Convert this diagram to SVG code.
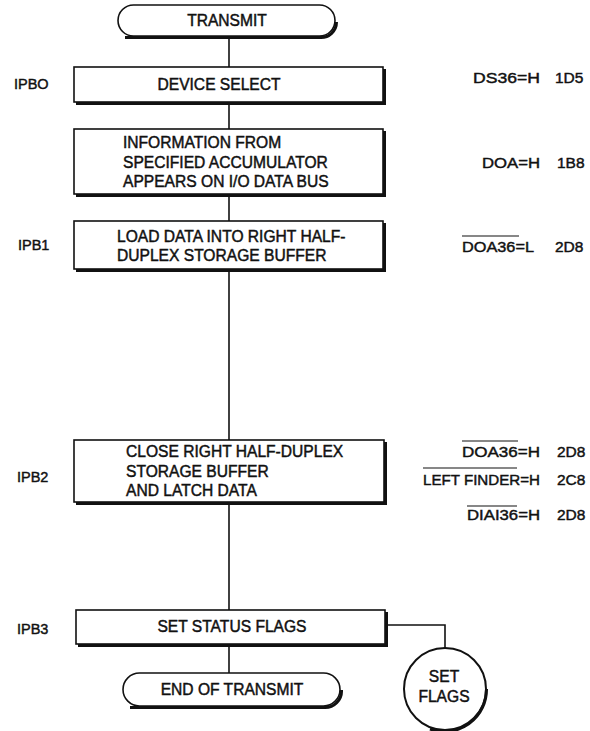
<svg xmlns="http://www.w3.org/2000/svg" width="590" height="731" viewBox="0 0 590 731">
<style>
.t{font-family:"Liberation Sans",Arial,sans-serif;font-size:15.6px;fill:#111;stroke:#111;stroke-width:0.45}
.s{font-family:"Liberation Sans",Arial,sans-serif;font-size:15.5px;fill:#111;stroke:#111;stroke-width:0.45}
.l{font-size:14.5px}
.m{text-anchor:middle}
.box{fill:#fff;stroke:#111;stroke-width:1.6}
.sh{fill:none;stroke:#111;stroke-width:3}
.ln{fill:none;stroke:#111;stroke-width:1.6}
.ov{stroke:#111;stroke-width:1.2}
</style>
<rect width="590" height="731" fill="#fff"/>
<g id="connectors">
<line class="ln" x1="229" y1="36" x2="229" y2="67"/>
<line class="ln" x1="229" y1="102" x2="229" y2="129"/>
<line class="ln" x1="229" y1="195" x2="229" y2="221"/>
<line class="ln" x1="229" y1="270" x2="229" y2="440"/>
<line class="ln" x1="229" y1="503" x2="229" y2="610"/>
<line class="ln" x1="229" y1="645" x2="229" y2="673"/>
<polyline class="ln" points="385,625 445,625 445,648"/>
</g>
<g id="start">
<rect class="box" x="118" y="5" width="217" height="31" rx="15.5"/>
<path class="sh" d="M125 37.5 H320 A15.5 15.5 0 0 0 336.5 22"/>
<text class="t m" x="227" y="26">TRANSMIT</text>
</g>
<g id="device-select">
<rect class="box" x="74" y="67" width="309" height="35"/>
<path class="sh" d="M76 103.5 H384.5 V69"/>
<text class="t m" x="219" y="90">DEVICE SELECT</text>
</g>
<g id="information">
<rect class="box" x="74" y="129" width="309" height="65"/>
<path class="sh" d="M76 195.5 H384.5 V131"/>
<text class="t" x="123" y="148">INFORMATION FROM</text>
<text class="t" x="123" y="168">SPECIFIED ACCUMULATOR</text>
<text class="t" x="123" y="187">APPEARS ON I/O DATA BUS</text>
</g>
<g id="load-data">
<rect class="box" x="74" y="221" width="309" height="48"/>
<path class="sh" d="M76 270.5 H384.5 V223"/>
<text class="t" x="117" y="242">LOAD DATA INTO RIGHT HALF-</text>
<text class="t" x="117" y="261">DUPLEX STORAGE BUFFER</text>
</g>
<g id="close-latch">
<rect class="box" x="74" y="440" width="310" height="62"/>
<path class="sh" d="M76 503.5 H385.5 V442"/>
<text class="t" x="126" y="457">CLOSE RIGHT HALF-DUPLEX</text>
<text class="t" x="126" y="477">STORAGE BUFFER</text>
<text class="t" x="126" y="496">AND LATCH DATA</text>
</g>
<g id="set-status">
<rect class="box" x="76" y="610" width="309" height="34"/>
<path class="sh" d="M78 645.5 H386.5 V612"/>
<text class="t m" x="232" y="632">SET STATUS FLAGS</text>
</g>
<g id="end">
<rect class="box" x="123" y="673" width="217" height="33" rx="16.5"/>
<path class="sh" d="M130 707.5 H324 A16.5 16.5 0 0 0 341.5 690"/>
<text class="t m" x="232" y="695">END OF TRANSMIT</text>
</g>
<g id="set-flags">
<circle cx="445" cy="689" r="41" fill="#fff" stroke="#111" stroke-width="2"/>
<path d="M486.5 689 A42 42 0 0 1 430 729" fill="none" stroke="#111" stroke-width="3"/>
<text class="t m" x="444" y="682">SET</text>
<text class="t m" x="444" y="702">FLAGS</text>
</g>
<g id="labels-left">
<text class="s l" x="14" y="89">IPBO</text>
<text class="s l" x="18" y="250">IPB1</text>
<text class="s l" x="17" y="482">IPB2</text>
<text class="s l" x="17" y="634">IPB3</text>
</g>
<g id="labels-right">
<text class="s" x="473" y="83" textLength="67" lengthAdjust="spacingAndGlyphs">DS36=H</text>
<text class="s" x="555" y="83">1D5</text>
<text class="s" x="482" y="168" textLength="58" lengthAdjust="spacingAndGlyphs">DOA=H</text>
<text class="s" x="557" y="168">1B8</text>
<text class="s" x="462" y="252" textLength="72" lengthAdjust="spacingAndGlyphs">DOA36=L</text>
<text class="s" x="555" y="252">2D8</text>
<line class="ov" x1="462" y1="236" x2="519" y2="236"/>
<text class="s" x="462" y="457" textLength="78" lengthAdjust="spacingAndGlyphs">DOA36=H</text>
<text class="s" x="557" y="457">2D8</text>
<line class="ov" x1="462" y1="441" x2="518" y2="441"/>
<text class="s" x="423" y="485" textLength="117" lengthAdjust="spacingAndGlyphs">LEFT FINDER=H</text>
<text class="s" x="557" y="485">2C8</text>
<line class="ov" x1="423" y1="468" x2="517" y2="468"/>
<text class="s" x="467" y="520" textLength="73" lengthAdjust="spacingAndGlyphs">DIAI36=H</text>
<text class="s" x="557" y="520">2D8</text>
<line class="ov" x1="467" y1="506" x2="517" y2="506"/>
</g>
</svg>
